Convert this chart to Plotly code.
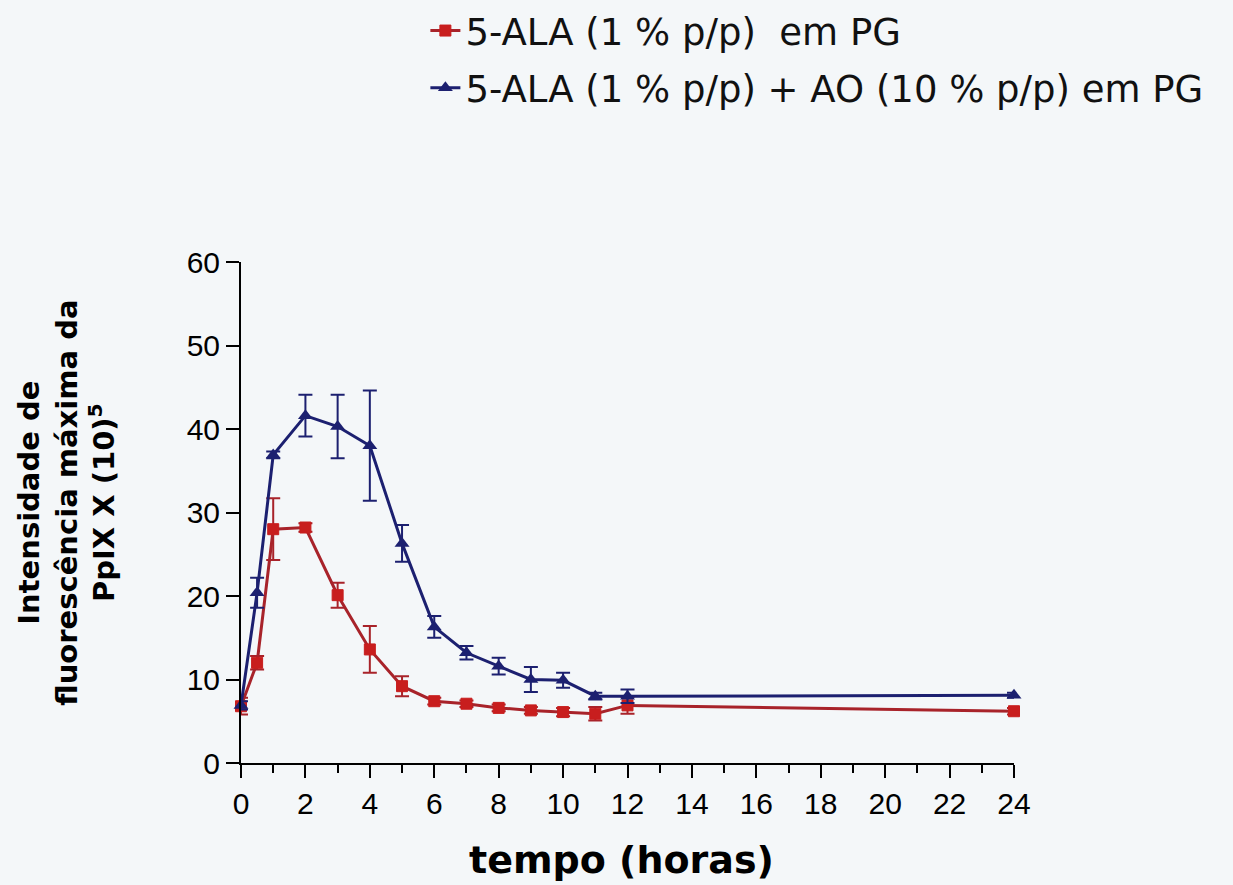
import plotly.graph_objects as go

# Data
tempo = [0, 0.5, 1, 2, 3, 4, 5, 6, 7, 8, 9, 10, 11, 12, 24]
ala_pg = [6.8, 12.0, 28.0, 28.2, 20.1, 13.6, 9.2, 7.4, 7.1, 6.6, 6.3, 6.1, 5.9, 6.9, 6.2]
ala_pg_err = [1.0, 0.8, 3.7, 0.5, 1.5, 2.8, 1.2, 0.4, 0.4, 0.4, 0.4, 0.5, 0.8, 1.0, 0.4]
ala_ao_pg = [6.9, 20.4, 36.9, 41.6, 40.3, 38.0, 26.3, 16.3, 13.2, 11.6, 10.0, 9.9, 8.0, 8.0, 8.1]
ala_ao_pg_err = [0.5, 1.8, 0.4, 2.5, 3.8, 6.6, 2.2, 1.3, 0.8, 1.0, 1.5, 0.9, 0.4, 0.8, 0.3]

name_red = "5-ALA (1 % p/p)\u00a0\u00a0em PG"
name_blue = "5-ALA (1 % p/p) + AO (10 % p/p) em PG"
xticks = list(range(0, 25, 2))
yticks = [0, 10, 20, 30, 40, 50, 60]

RED = "#c81e1e"
RED_LINE = "#a8232a"
BLUE = "#1c2070"

fig = go.Figure()
fig.add_trace(go.Scatter(
    x=tempo, y=ala_pg, name=name_red, mode="lines+markers", legendgroup="a",
    line=dict(color=RED_LINE, width=3),
    marker=dict(symbol="square", size=11, color=RED, line=dict(color=RED, width=1)),
    error_y=dict(type="data", array=ala_pg_err, visible=True, color=RED_LINE, thickness=2, width=7),
    cliponaxis=False,
))
fig.add_trace(go.Scatter(
    x=tempo, y=ala_ao_pg, name=name_blue, mode="lines+markers", legendgroup="b",
    line=dict(color=BLUE, width=3),
    marker=dict(symbol="triangle-up", size=13, color=BLUE),
    error_y=dict(type="data", array=ala_ao_pg_err, visible=True, color=BLUE, thickness=2, width=7),
    cliponaxis=False,
))

BG = "#f4f7f9"
fig.update_layout(
    width=1233, height=885,
    margin=dict(l=241, r=219, t=262, b=122, autoexpand=False),
    paper_bgcolor=BG, plot_bgcolor=BG,
    showlegend=True,
    legend=dict(
        xref="container", yref="container",
        x=0.345, y=1.0, xanchor="left", yanchor="top",
        font=dict(family="DejaVu Sans", size=37, color="#111111"),
        bgcolor="rgba(0,0,0,0)", tracegroupgap=6,
    ),
    xaxis=dict(
        range=[0, 24], tickvals=xticks, ticktext=[str(v) for v in xticks],
        showgrid=False, zeroline=False, showline=True, linecolor="black", linewidth=2,
        ticks="outside", ticklen=13, tickwidth=2, tickcolor="black",
        tickfont=dict(family="Liberation Sans, Arial", size=30, color="black"),
        minor=dict(dtick=1, tick0=0, ticks="outside", ticklen=8, tickwidth=2, tickcolor="black", showgrid=False),
    ),
    yaxis=dict(
        range=[0, 60], tickvals=yticks, ticktext=[str(v) for v in yticks],
        showgrid=False, zeroline=False, showline=True, linecolor="black", linewidth=2,
        ticks="outside", ticklen=13, tickwidth=2, tickcolor="black",
        tickfont=dict(family="Liberation Sans, Arial", size=30, color="black"),
    ),
    annotations=[
        dict(
            text="Intensidade de<br>fluorescência máxima da<br>PpIX X (10)<sup>5</sup>",
            xref="paper", yref="paper", x=-0.226, y=0.52, xanchor="center", yanchor="middle",
            textangle=-90, showarrow=False,
            font=dict(family="DejaVu Sans", size=29, color="black", weight="bold"),
        ),
        dict(
            text="tempo (horas)",
            xref="paper", yref="paper", x=0.492, y=-0.194, xanchor="center", yanchor="middle",
            showarrow=False,
            font=dict(family="DejaVu Sans", size=38, color="black", weight="bold"),
        ),
    ],
)

fig.write_html("out.html")
